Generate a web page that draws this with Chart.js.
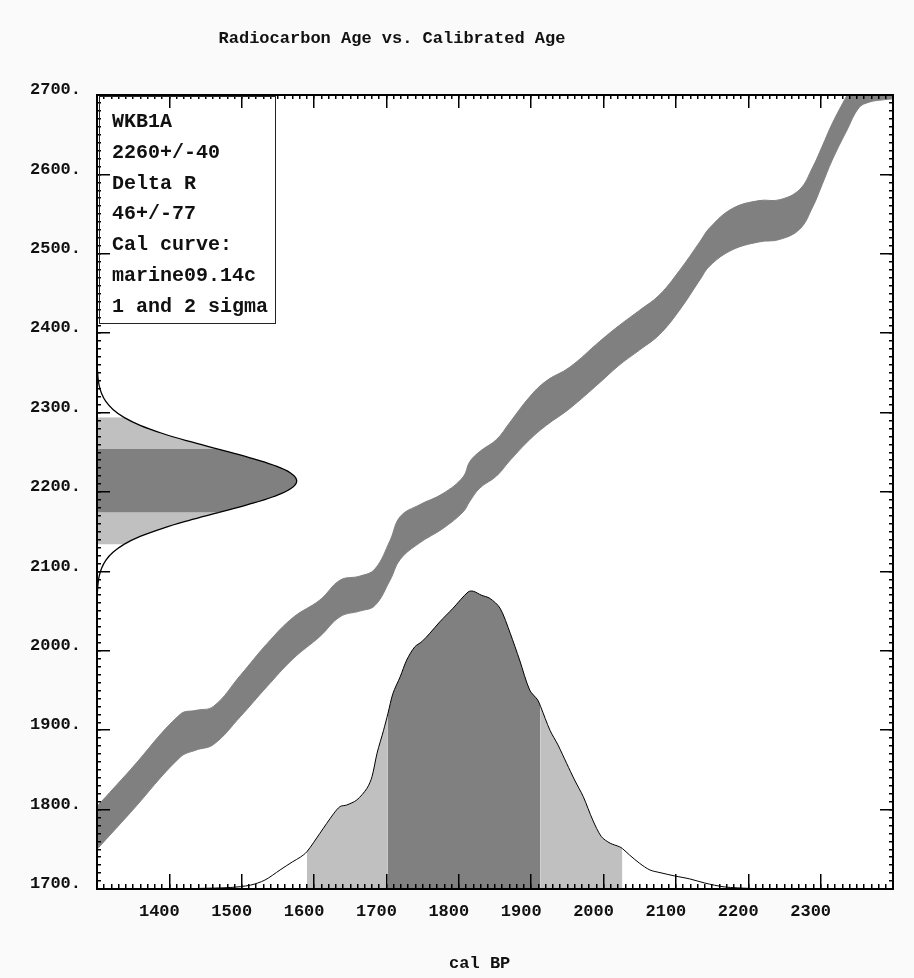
<!DOCTYPE html>
<html>
<head>
<meta charset="utf-8">
<script src="https://cdn.jsdelivr.net/npm/chart.js@4.4.1/dist/chart.umd.min.js"></script>
<style>
html,body{margin:0;padding:0;background:#fafafa;}
#wrap{position:relative;width:914px;height:978px;}
#c{position:absolute;left:0;top:0;}
#title{position:absolute;left:0;width:784px;top:28px;text-align:center;font:bold 17px "Liberation Mono",monospace;line-height:22px;color:#111;white-space:pre;}
#info{position:absolute;left:99px;top:96px;width:177px;height:228px;box-sizing:border-box;border:1.5px solid #222;background:transparent;padding:10px 0 0 12px;font:bold 20px "Liberation Mono",monospace;line-height:30.8px;color:#111;white-space:pre;}
</style>
</head>
<body>
<div id="wrap">
  <canvas id="c" width="914" height="978"></canvas>
  <div id="title"></div>
  <div id="info"></div>
</div>
<script>
// ---------------- data ----------------
const chartTitle = 'Radiocarbon Age vs. Calibrated Age';
const xAxisTitle = 'cal BP';
const infoLines = ['WKB1A', '2260+/-40', 'Delta R', '46+/-77', 'Cal curve:', 'marine09.14c', '1 and 2 sigma'];

const xTickLabels = [1400, 1500, 1600, 1700, 1800, 1900, 2000, 2100, 2200, 2300];
const yTickLabels = [1700, 1800, 1900, 2000, 2100, 2200, 2300, 2400, 2500, 2600, 2700];

// calibration curve (cal BP, 14C age, 1 sigma)
const curveCal   = [1300,1346,1415,1437,1461,1498,1535,1571,1608,1636,1663,1684,1705,1719,1746,1778,1806,1815,1829,1852,1870,1898,1921,1953,1995,2022,2050,2077,2105,2133,2147,2178,2215,2243,2271,2289,2302,2316,2336,2353,2367,2387,2410];
const curveC14   = [1777,1823,1893,1900,1906,1943,1982,2016,2041,2066,2072,2080,2114,2142,2160,2176,2197,2213,2228,2243,2263,2293,2312,2331,2364,2385,2404,2423,2454,2491,2509,2531,2541,2543,2556,2584,2611,2641,2677,2706,2713,2716,2718];
const curveSigma = [27,27,27,25,24,26,27,26,23,23,22,23,25,27,24,22,22,25,23,23,24,27,28,26,26,25,25,25,25,24,24,26,26,25,25,25,24,23,22,22,22,22,22];

// calibrated probability distribution (cal BP, relative probability)
const probCal = [1420,1443,1484,1512,1532,1553,1570,1581,1590,1608,1627,1636,1645,1659,1673,1680,1687,1696,1702,1709,1719,1728,1739,1749,1760,1774,1792,1813,1820,1831,1843,1857,1871,1884,1898,1909,1913,1926,1937,1949,1960,1972,1985,1997,2009,2022,2026,2036,2050,2064,2078,2098,2119,2140,2167,2202,2243,2290];
const probRel = [0,0.002,0.005,0.013,0.030,0.064,0.091,0.107,0.125,0.187,0.253,0.277,0.282,0.299,0.338,0.377,0.456,0.533,0.589,0.657,0.713,0.769,0.813,0.831,0.859,0.898,0.943,0.998,1.000,0.987,0.976,0.943,0.859,0.769,0.668,0.635,0.613,0.533,0.484,0.422,0.366,0.310,0.232,0.176,0.154,0.142,0.136,0.114,0.086,0.064,0.055,0.044,0.034,0.020,0.007,0.002,0,0];
const calRange1Sigma = [1702, 1913];
const calRange2Sigma = [1590, 2026];

// radiocarbon age distribution (14C age, relative probability)
const gaussC14 = [2074,2084,2094,2104,2114,2124,2134,2144,2154,2164,2174,2184,2194,2204,2214,2224,2234,2244,2254,2264,2274,2284,2294,2304,2314,2324,2334,2344,2354];
const gaussRel = [0.002,0.005,0.011,0.023,0.044,0.080,0.135,0.216,0.325,0.458,0.607,0.755,0.882,0.969,1.000,0.969,0.882,0.755,0.607,0.458,0.325,0.216,0.135,0.080,0.044,0.023,0.011,0.005,0.002];
const c14Range1Sigma = [2174, 2254];
const c14Range2Sigma = [2134, 2294];

// ---------------- layout / style ----------------
const X_MIN = 1300, X_MAX = 2400, Y_MIN = 1700, Y_MAX = 2700;
const PROB_HEIGHT = 375;   // drawn height of the calibrated distribution peak (14C years)
const GAUSS_WIDTH = 276;   // drawn width of the 14C distribution peak (cal years)
const DARK = '#808080', LIGHT = '#c0c0c0', NONE = 'rgba(0,0,0,0)';
const FONT = "'Liberation Mono', monospace";

document.getElementById('title').textContent = chartTitle;
document.getElementById('info').textContent = infoLines.join('\n');

const bandLower = curveCal.map((c, i) => ({x: c, y: curveC14[i] - curveSigma[i]}));
const bandUpper = curveCal.map((c, i) => ({x: c, y: curveC14[i] + curveSigma[i]}));
const probPts = probCal.map((c, i) => ({x: c, y: Y_MIN + probRel[i] * PROB_HEIGHT}));
const gaussPts = gaussC14.map((v, i) => ({x: X_MIN + gaussRel[i] * GAUSS_WIDTH, y: v}));

function shade(mid, r1, r2) {
  if (mid >= r1[0] && mid <= r1[1]) return DARK;
  if (mid >= r2[0] && mid <= r2[1]) return LIGHT;
  return NONE;
}

const tickFont = {family: FONT, size: 17, weight: 'bold'};

function frameScale(axis, position, weight, step, tickLen, showBorder, size) {
  return {
    type: 'linear', axis, position, weight,
    min: axis === 'x' ? X_MIN : Y_MIN,
    max: axis === 'x' ? X_MAX : Y_MAX,
    ticks: {display: false, stepSize: step, autoSkip: false, maxTicksLimit: 500},
    grid: {display: true, drawOnChartArea: false, drawTicks: true, tickLength: tickLen,
           color: '#000', tickColor: '#000', lineWidth: 1.5, tickWidth: 1.5, z: 1},
    border: {display: showBorder, color: '#000', width: 2, z: 1},
    afterFit: s => {
      if (axis === 'x') { s.height = size; s.paddingLeft = 0; s.paddingRight = 0; }
      else { s.width = size; s.paddingTop = 0; s.paddingBottom = 0; }
    }
  };
}

const xMain = frameScale('x', 'bottom', 1, 100, -15, true, 89);
xMain.ticks = {display: true, stepSize: 100, autoSkip: false, maxRotation: 0, minRotation: 0,
  padding: 28, labelOffset: -10, color: '#111', font: tickFont, maxTicksLimit: 500,
  callback: v => xTickLabels.includes(v) ? String(v) : ''};
xMain.title = {display: true, text: xAxisTitle + '   ', color: '#111', font: tickFont, padding: {top: 0, bottom: 4}};

const yMain = frameScale('y', 'left', 1, 100, -13, true, 97);
yMain.ticks = {display: true, stepSize: 100, autoSkip: false, padding: 29, labelOffset: -5,
  color: '#111', font: tickFont, maxTicksLimit: 500,
  callback: v => yTickLabels.includes(v) ? v + '.' : ''};

const areaBg = {
  id: 'areaBg',
  beforeDraw(chart) {
    const {ctx, chartArea: a} = chart;
    ctx.save(); ctx.fillStyle = '#ffffff';
    ctx.fillRect(a.left, a.top, a.right - a.left, a.bottom - a.top);
    ctx.restore();
  }
};

new Chart(document.getElementById('c'), {
  type: 'line',
  data: {
    datasets: [
      {data: bandLower, xAxisID: 'x', yAxisID: 'y', borderColor: DARK, borderWidth: 1,
       pointRadius: 0, fill: false, tension: 0.4},
      {data: bandUpper, xAxisID: 'x', yAxisID: 'y', borderColor: DARK, borderWidth: 1,
       pointRadius: 0, fill: '-1', backgroundColor: DARK, tension: 0.4},
      {data: probPts, xAxisID: 'x', yAxisID: 'y', borderColor: '#000', borderWidth: 1,
       pointRadius: 0, tension: 0.3, fill: {value: Y_MIN}, backgroundColor: NONE,
       segment: {backgroundColor: ctx => shade((probCal[ctx.p0DataIndex] + probCal[ctx.p1DataIndex]) / 2, calRange1Sigma, calRange2Sigma)}},
      {data: gaussPts, indexAxis: 'y', xAxisID: 'x', yAxisID: 'y', borderColor: '#000', borderWidth: 1.3,
       pointRadius: 0, tension: 0.4, fill: {value: X_MIN}, backgroundColor: NONE,
       segment: {backgroundColor: ctx => shade((gaussC14[ctx.p0DataIndex] + gaussC14[ctx.p1DataIndex]) / 2, c14Range1Sigma, c14Range2Sigma)}}
    ]
  },
  options: {
    responsive: false,
    animation: false,
    events: [],
    layout: {padding: {top: 95, right: 21, left: 0, bottom: 0}},
    plugins: {legend: {display: false}, tooltip: {enabled: false}, title: {display: false}},
    scales: {
      x: xMain,
      y: yMain,
      xMinor: frameScale('x', 'bottom', 0, 10, -5, false, 0),
      xTop: frameScale('x', 'top', 1, 100, -13, true, 0),
      xTopMinor: frameScale('x', 'top', 0, 10, -4, false, 0),
      yMinor: frameScale('y', 'left', 0, 10, -4, false, 0),
      yRight: frameScale('y', 'right', 1, 100, -13, true, 0),
      yRightMinor: frameScale('y', 'right', 0, 10, -4, false, 0)
    }
  },
  plugins: [areaBg]
});
</script>
</body>
</html>
